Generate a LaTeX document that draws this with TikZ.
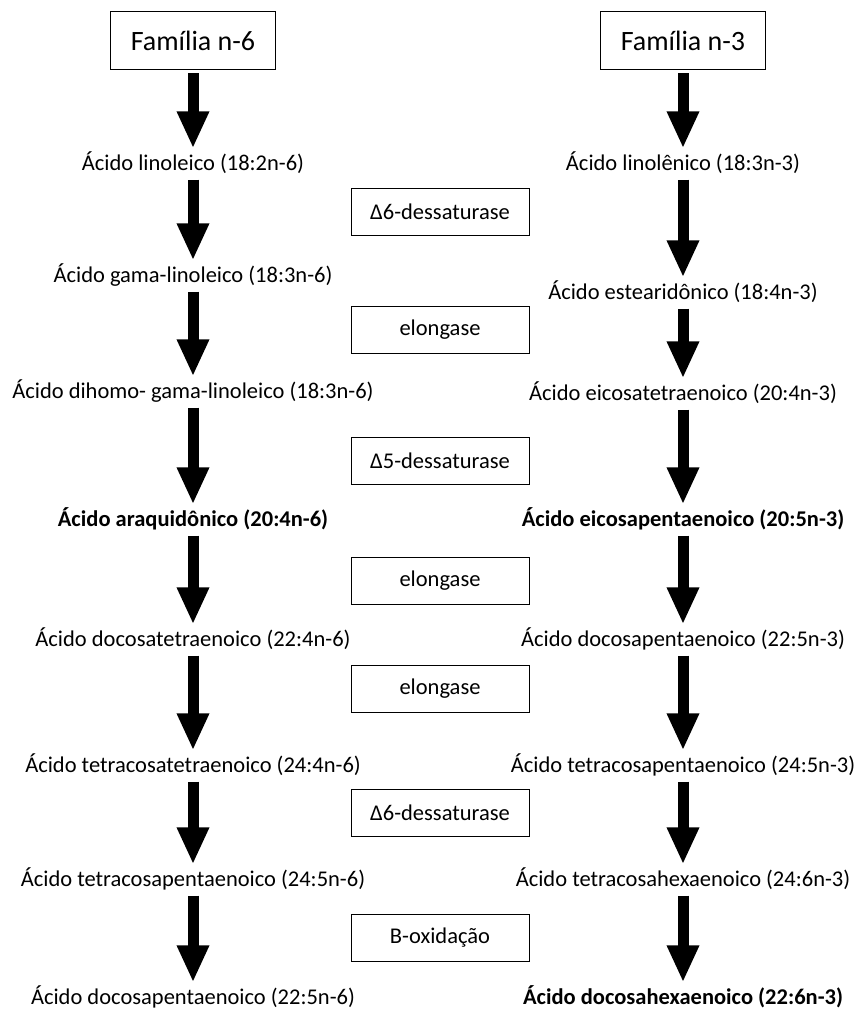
\documentclass[tikz,border=0pt]{standalone}
\usepackage{fontspec}
\setmainfont{Carlito}
\usetikzlibrary{arrows.meta}

\begin{document}
\begin{tikzpicture}
[x=1pt,y=-1pt,
fam/.style={rectangle,draw,line width=1pt,minimum width=165pt,minimum height=58pt,font=\fontsize{28}{32}\selectfont},
enz/.style={rectangle,draw,line width=1pt,minimum width=178pt,minimum height=47pt,font=\fontsize{22.5}{27}\selectfont},
acid/.style={inner sep=0pt,text height=15pt,text depth=6pt,font=\fontsize{22.5}{27}\selectfont},
main/.style={acid,font=\fontsize{22.5}{27}\selectfont\bfseries},
seta/.style={line width=11pt,-{Triangle[width=30pt,length=37pt]},shorten <=3pt,shorten >=7pt}]
\useasboundingbox (0,0) rectangle (863,1011);
% familia n-6
\node[fam] (f6) at (193,41) {Família n-6};
\node[acid] (a1) at (193,166) {Ácido linoleico (18:2n-6)};
\node[acid] (a2) at (193,278) {Ácido gama-linoleico (18:3n-6)};
\node[acid] (a3) at (193,394) {Ácido dihomo- gama-linoleico (18:3n-6)};
\node[main] (a4) at (193,522) {Ácido araquidônico (20:4n-6)};
\node[acid] (a5) at (193,642) {Ácido docosatetraenoico (22:4n-6)};
\node[acid] (a6) at (193,768) {Ácido tetracosatetraenoico (24:4n-6)};
\node[acid] (a7) at (193,882) {Ácido tetracosapentaenoico (24:5n-6)};
\node[acid] (a8) at (193,1000) {Ácido docosapentaenoico (22:5n-6)};
% familia n-3
\node[fam] (f3) at (683,41) {Família n-3};
\node[acid] (b1) at (683,166) {Ácido linolênico (18:3n-3)};
\node[acid] (b2) at (683,295) {Ácido estearidônico (18:4n-3)};
\node[acid] (b3) at (683,396) {Ácido eicosatetraenoico (20:4n-3)};
\node[main] (b4) at (683,522) {Ácido eicosapentaenoico (20:5n-3)};
\node[acid] (b5) at (683,642) {Ácido docosapentaenoico (22:5n-3)};
\node[acid] (b6) at (683,768) {Ácido tetracosapentaenoico (24:5n-3)};
\node[acid] (b7) at (683,882) {Ácido tetracosahexaenoico (24:6n-3)};
\node[main] (b8) at (683,1000) {Ácido docosahexaenoico (22:6n-3)};
% enzimas
\node[enz] (e1) at (440,212) {Δ6-dessaturase};
\node[enz] (e2) at (440,330) {elongase};
\node[enz] (e3) at (440,461) {Δ5-dessaturase};
\node[enz] (e4) at (440,581) {elongase};
\node[enz] (e5) at (440,689) {elongase};
\node[enz] (e6) at (440,813) {Δ6-dessaturase};
\node[enz] (e7) at (440,938) {B-oxidação};
\draw[seta] (f6) -- (a1);
\draw[seta] (a1) -- (a2);
\draw[seta] (a2) -- (a3);
\draw[seta] (a3) -- (a4);
\draw[seta] (a4) -- (a5);
\draw[seta] (a5) -- (a6);
\draw[seta] (a6) -- (a7);
\draw[seta] (a7) -- (a8);
\draw[seta] (f3) -- (b1);
\draw[seta] (b1) -- (b2);
\draw[seta] (b2) -- (b3);
\draw[seta] (b3) -- (b4);
\draw[seta] (b4) -- (b5);
\draw[seta] (b5) -- (b6);
\draw[seta] (b6) -- (b7);
\draw[seta] (b7) -- (b8);
\end{tikzpicture}
\end{document}
